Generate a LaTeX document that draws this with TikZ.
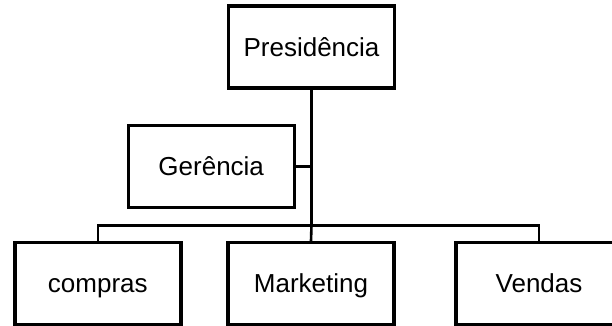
\documentclass[tikz,border=0pt]{standalone}
\usepackage{fontspec}
\setmainfont{Liberation Sans}
\begin{document}
\begin{tikzpicture}[x=1pt,y=-1pt,
  orgbox/.style={draw=black, line width=3.4pt, fill=white, minimum width=166pt,
    minimum height=82pt, inner sep=0pt, text height=18.6pt, text depth=0pt,
    font=\fontsize{26}{30}\selectfont},
  link/.style={draw=black, line width=2.6pt}]
\useasboundingbox (0,0) rectangle (612,326);
\clip (0,0) rectangle (612,326);
\fill[white] (0,0) rectangle (612,326);
\coordinate (bus) at (311.5,225.3);
\node[orgbox] (pres) at (311.5,47) {Presidência};
\node[orgbox] (ger) at (211.2,166.2) {Gerência};
\node[orgbox] (compras) at (97.8,283.5) {compras};
\node[orgbox] (mkt) at (311,283.5) {Marketing};
\node[orgbox] (vendas) at (539,283.5) {Vendas};
\draw[link] (pres.south) -- (bus);
\draw[link] (ger.east) -- (ger.east -| bus);
\draw[link] (compras.north) |- (bus) -| (vendas.north);
\draw[link] (bus) -- (mkt.north);
\end{tikzpicture}
\end{document}
